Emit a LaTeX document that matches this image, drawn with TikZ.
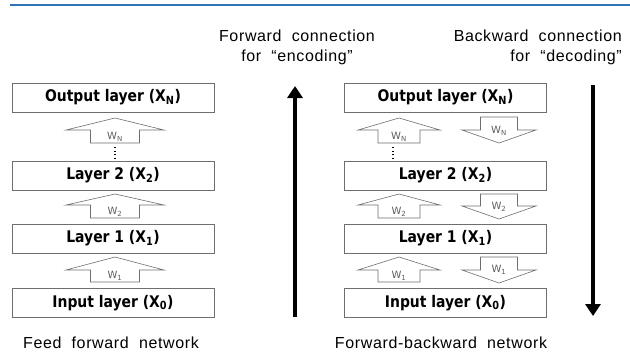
\documentclass[tikz,border=0pt]{standalone}
\usepackage{fontspec}
\usetikzlibrary{arrows.meta}
\setmainfont{Liberation Sans}
\newfontfamily\boxfont[FakeStretch=0.87]{DejaVu Sans Bold}
\newfontfamily\wfont{DejaVu Sans}
\newfontfamily\labfont[LetterSpace=4,WordSpace=2]{Liberation Sans}
\definecolor{topblue}{RGB}{46,117,182}
\definecolor{edgegray}{RGB}{110,110,110}
\definecolor{wgray}{RGB}{95,95,95}
\newcommand{\uparrowshape}[6]{% cx, tip, shoulder, bottom, headhalf, stemhalf
  \draw[fat] (#1,#2) -- (#1+#5,#3) -- (#1+#6,#3) -- (#1+#6,#4) -- (#1-#6,#4) -- (#1-#6,#3) -- (#1-#5,#3) -- cycle;}
\newcommand{\downarrowshape}[6]{% cx, top, shoulder, tip, headhalf, stemhalf
  \draw[fat] (#1-#6,#2) -- (#1+#6,#2) -- (#1+#6,#3) -- (#1+#5,#3) -- (#1,#4) -- (#1-#5,#3) -- (#1-#6,#3) -- cycle;}
\begin{document}
\begin{tikzpicture}[x=1pt,y=-1pt,
  layer/.style={draw=edgegray, line width=0.8pt, minimum width=202pt, minimum height=29pt, inner sep=0pt,
    font=\boxfont\fontsize{16}{18}\selectfont},
  fat/.style={draw=edgegray, line width=0.6pt, fill=white},
  wlab/.style={text=wgray, inner sep=0pt, font=\wfont\fontsize{10}{11}\selectfont},
  big/.style={line width=3.6pt, -{Triangle[length=12pt,width=15pt]}},
  lab/.style={inner sep=0pt, font=\labfont\fontsize{16}{20}\selectfont}]
\useasboundingbox (0,0) rectangle (630,356);
\draw[topblue, line width=1.5pt] (10,5) -- (630,5);

% left column
\node[layer] (lout) at (113,97.5) {Output layer (X\textsubscript{N})};
\node[layer] (l2) at (113,175.5) {Layer 2 (X\textsubscript{2})};
\node[layer] (l1) at (113,238.5) {Layer 1 (X\textsubscript{1})};
\node[layer] (lin) at (113,303) {Input layer (X\textsubscript{0})};

\uparrowshape{115}{118}{130}{143}{49}{24.5}
\uparrowshape{115}{194}{205}{218}{49}{24.5}
\uparrowshape{115}{257}{270}{282}{49}{24.5}
\node[wlab] (lwn) at (115,137) {W\textsubscript{N}};
\node[wlab] (lw2) at (115,212) {W\textsubscript{2}};
\node[wlab] (lw1) at (115,276) {W\textsubscript{1}};
\draw[line width=1.2pt, dash pattern=on 1.2pt off 2.3pt] (115,147) -- (115,159);

% right column
\node[layer] (rout) at (445.5,97.5) {Output layer (X\textsubscript{N})};
\node[layer] (r2) at (445.5,175.5) {Layer 2 (X\textsubscript{2})};
\node[layer] (r1) at (445.5,238.5) {Layer 1 (X\textsubscript{1})};
\node[layer] (rin) at (445.5,303) {Input layer (X\textsubscript{0})};

\uparrowshape{399}{118}{130}{143}{41}{21}
\uparrowshape{399}{194}{205}{218}{41}{21}
\uparrowshape{399}{257}{270}{282}{41}{21}
\node[wlab] (rwn) at (399,137) {W\textsubscript{N}};
\node[wlab] (rw2) at (399,212) {W\textsubscript{2}};
\node[wlab] (rw1) at (399,276) {W\textsubscript{1}};
\draw[line width=1.2pt, dash pattern=on 1.2pt off 2.3pt] (393,147) -- (393,159);

\downarrowshape{499}{117}{130}{143}{37}{18.5}
\downarrowshape{499}{194}{206}{219}{37}{18.5}
\downarrowshape{499}{257}{270}{283}{37}{18.5}
\node[wlab] (dwn) at (499,131) {W\textsubscript{N}};
\node[wlab] (dw2) at (499,207) {W\textsubscript{2}};
\node[wlab] (dw1) at (499,270) {W\textsubscript{1}};

% big arrows
\coordinate (fa0) at (295,317);
\coordinate (fa1) at (295,86);
\coordinate (ba0) at (593,85);
\coordinate (ba1) at (593,316);
\draw[big] (fa0) -- (fa1);
\draw[big] (ba0) -- (ba1);

% labels
\node[lab, align=center, anchor=north] (fwd) at (297,30) {Forward connection\\for “encoding”};
\node[lab, align=right, anchor=north east] (bwd) at (622,30) {Backward connection\\for “decoding”};
\node[lab] (ffn) at (111,343) {Feed forward network};
\node[lab] (fbn) at (441,343) {Forward-backward network};
\end{tikzpicture}
\end{document}
